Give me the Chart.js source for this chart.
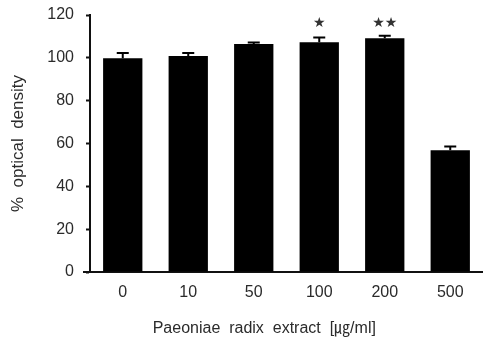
<!DOCTYPE html>
<html>
<head>
<meta charset="utf-8">
<script src="https://cdn.jsdelivr.net/npm/chart.js@4/dist/chart.umd.min.js"></script>
<style>
  html, body { margin: 0; padding: 0; background: #fff; }
  #wrap { width: 483px; height: 340px; }
</style>
</head>
<body>
<div id="wrap"><canvas id="canvas" width="483" height="340"></canvas></div>
<script>
// concentrations (x categories)
const doses = ['0', '10', '50', '100', '200', '500'];
// % optical density, mean and upper SD
const means = [99.8, 100.9, 106.5, 107.3, 109.2, 56.9];
const errs = [2.5, 1.4, 0.7, 2.2, 1.1, 1.7];
// significance marks
const marks = ['', '', '', '★', '★★', ''];
const markLevel = 116;

const yTicks = [0, 20, 40, 60, 80, 100, 120];

const FONT = '"Liberation Sans", "Noto Sans CJK KR", sans-serif';
const TXT = '#2b2b2b';

const extras = {
  id: 'extras',
  afterDatasetsDraw(chart) {
    const ctx = chart.ctx;
    const x = chart.scales.x, y = chart.scales.y;
    const meta = chart.getDatasetMeta(0);
    ctx.save();
    // error bars (upper only)
    ctx.strokeStyle = '#000';
    ctx.lineWidth = 2;
    meta.data.forEach((bar, i) => {
      const top = y.getPixelForValue(means[i] + errs[i]);
      const base = y.getPixelForValue(means[i]);
      ctx.beginPath();
      ctx.moveTo(bar.x, base);
      ctx.lineTo(bar.x, top);
      ctx.moveTo(bar.x - 6, top);
      ctx.lineTo(bar.x + 6, top);
      ctx.stroke();
    });
    // stars
    ctx.fillStyle = '#333';
    ctx.font = '14px "DejaVu Sans", sans-serif';
    ctx.textAlign = 'center';
    ctx.textBaseline = 'middle';
    marks.forEach((m, i) => {
      if (!m) return;
      ctx.fillText(m, meta.data[i].x, y.getPixelForValue(markLevel));
    });
    // x axis line runs a little past the y axis
    ctx.strokeStyle = '#111';
    ctx.lineWidth = 2;
    ctx.beginPath();
    ctx.moveTo(x.left - 7, y.getPixelForValue(0));
    ctx.lineTo(x.left, y.getPixelForValue(0));
    ctx.stroke();
    ctx.restore();
  }
};

new Chart(document.getElementById('canvas').getContext('2d'), {
  type: 'bar',
  data: {
    labels: doses,
    datasets: [{
      data: means,
      backgroundColor: '#000',
      borderWidth: 0,
      barPercentage: 0.6,
      categoryPercentage: 1.0
    }]
  },
  options: {
    responsive: false,
    animation: false,
    layout: { padding: { top: 15, left: 0, right: 0, bottom: 0 } },
    plugins: {
      legend: { display: false },
      tooltip: { enabled: false }
    },
    scales: {
      x: {
        grid: { display: false, drawTicks: false },
        border: { color: '#111', width: 2 },
        ticks: { color: TXT, font: { family: FONT, size: 16 }, padding: 11 },
        title: {
          display: true,
          text: 'Paeoniae  radix  extract  [㎍/ml]' + '\u00a0'.repeat(10),
          color: TXT,
          font: { family: FONT, size: 16 },
          padding: { top: 0, bottom: 2 }
        },
        afterFit(s) { s.height = 68; s.paddingLeft = 0; s.paddingRight = 0; }
      },
      y: {
        min: 0,
        max: 120,
        afterBuildTicks(s) { s.ticks = yTicks.map(v => ({ value: v })); },
        grid: { drawOnChartArea: false, drawTicks: true, tickLength: 4, color: '#111', tickWidth: 2 },
        border: { color: '#111', width: 2 },
        ticks: { color: TXT, font: { family: FONT, size: 16 }, padding: 12 },
        title: {
          display: true,
          text: '%  optical  density',
          color: TXT,
          font: { family: FONT, size: 17 },
          padding: { top: 8, bottom: 0 }
        },
        afterFit(s) { s.width = 90; s.paddingTop = 0; s.paddingBottom = 0; }
      }
    }
  },
  plugins: [extras]
});
</script>
</body>
</html>
